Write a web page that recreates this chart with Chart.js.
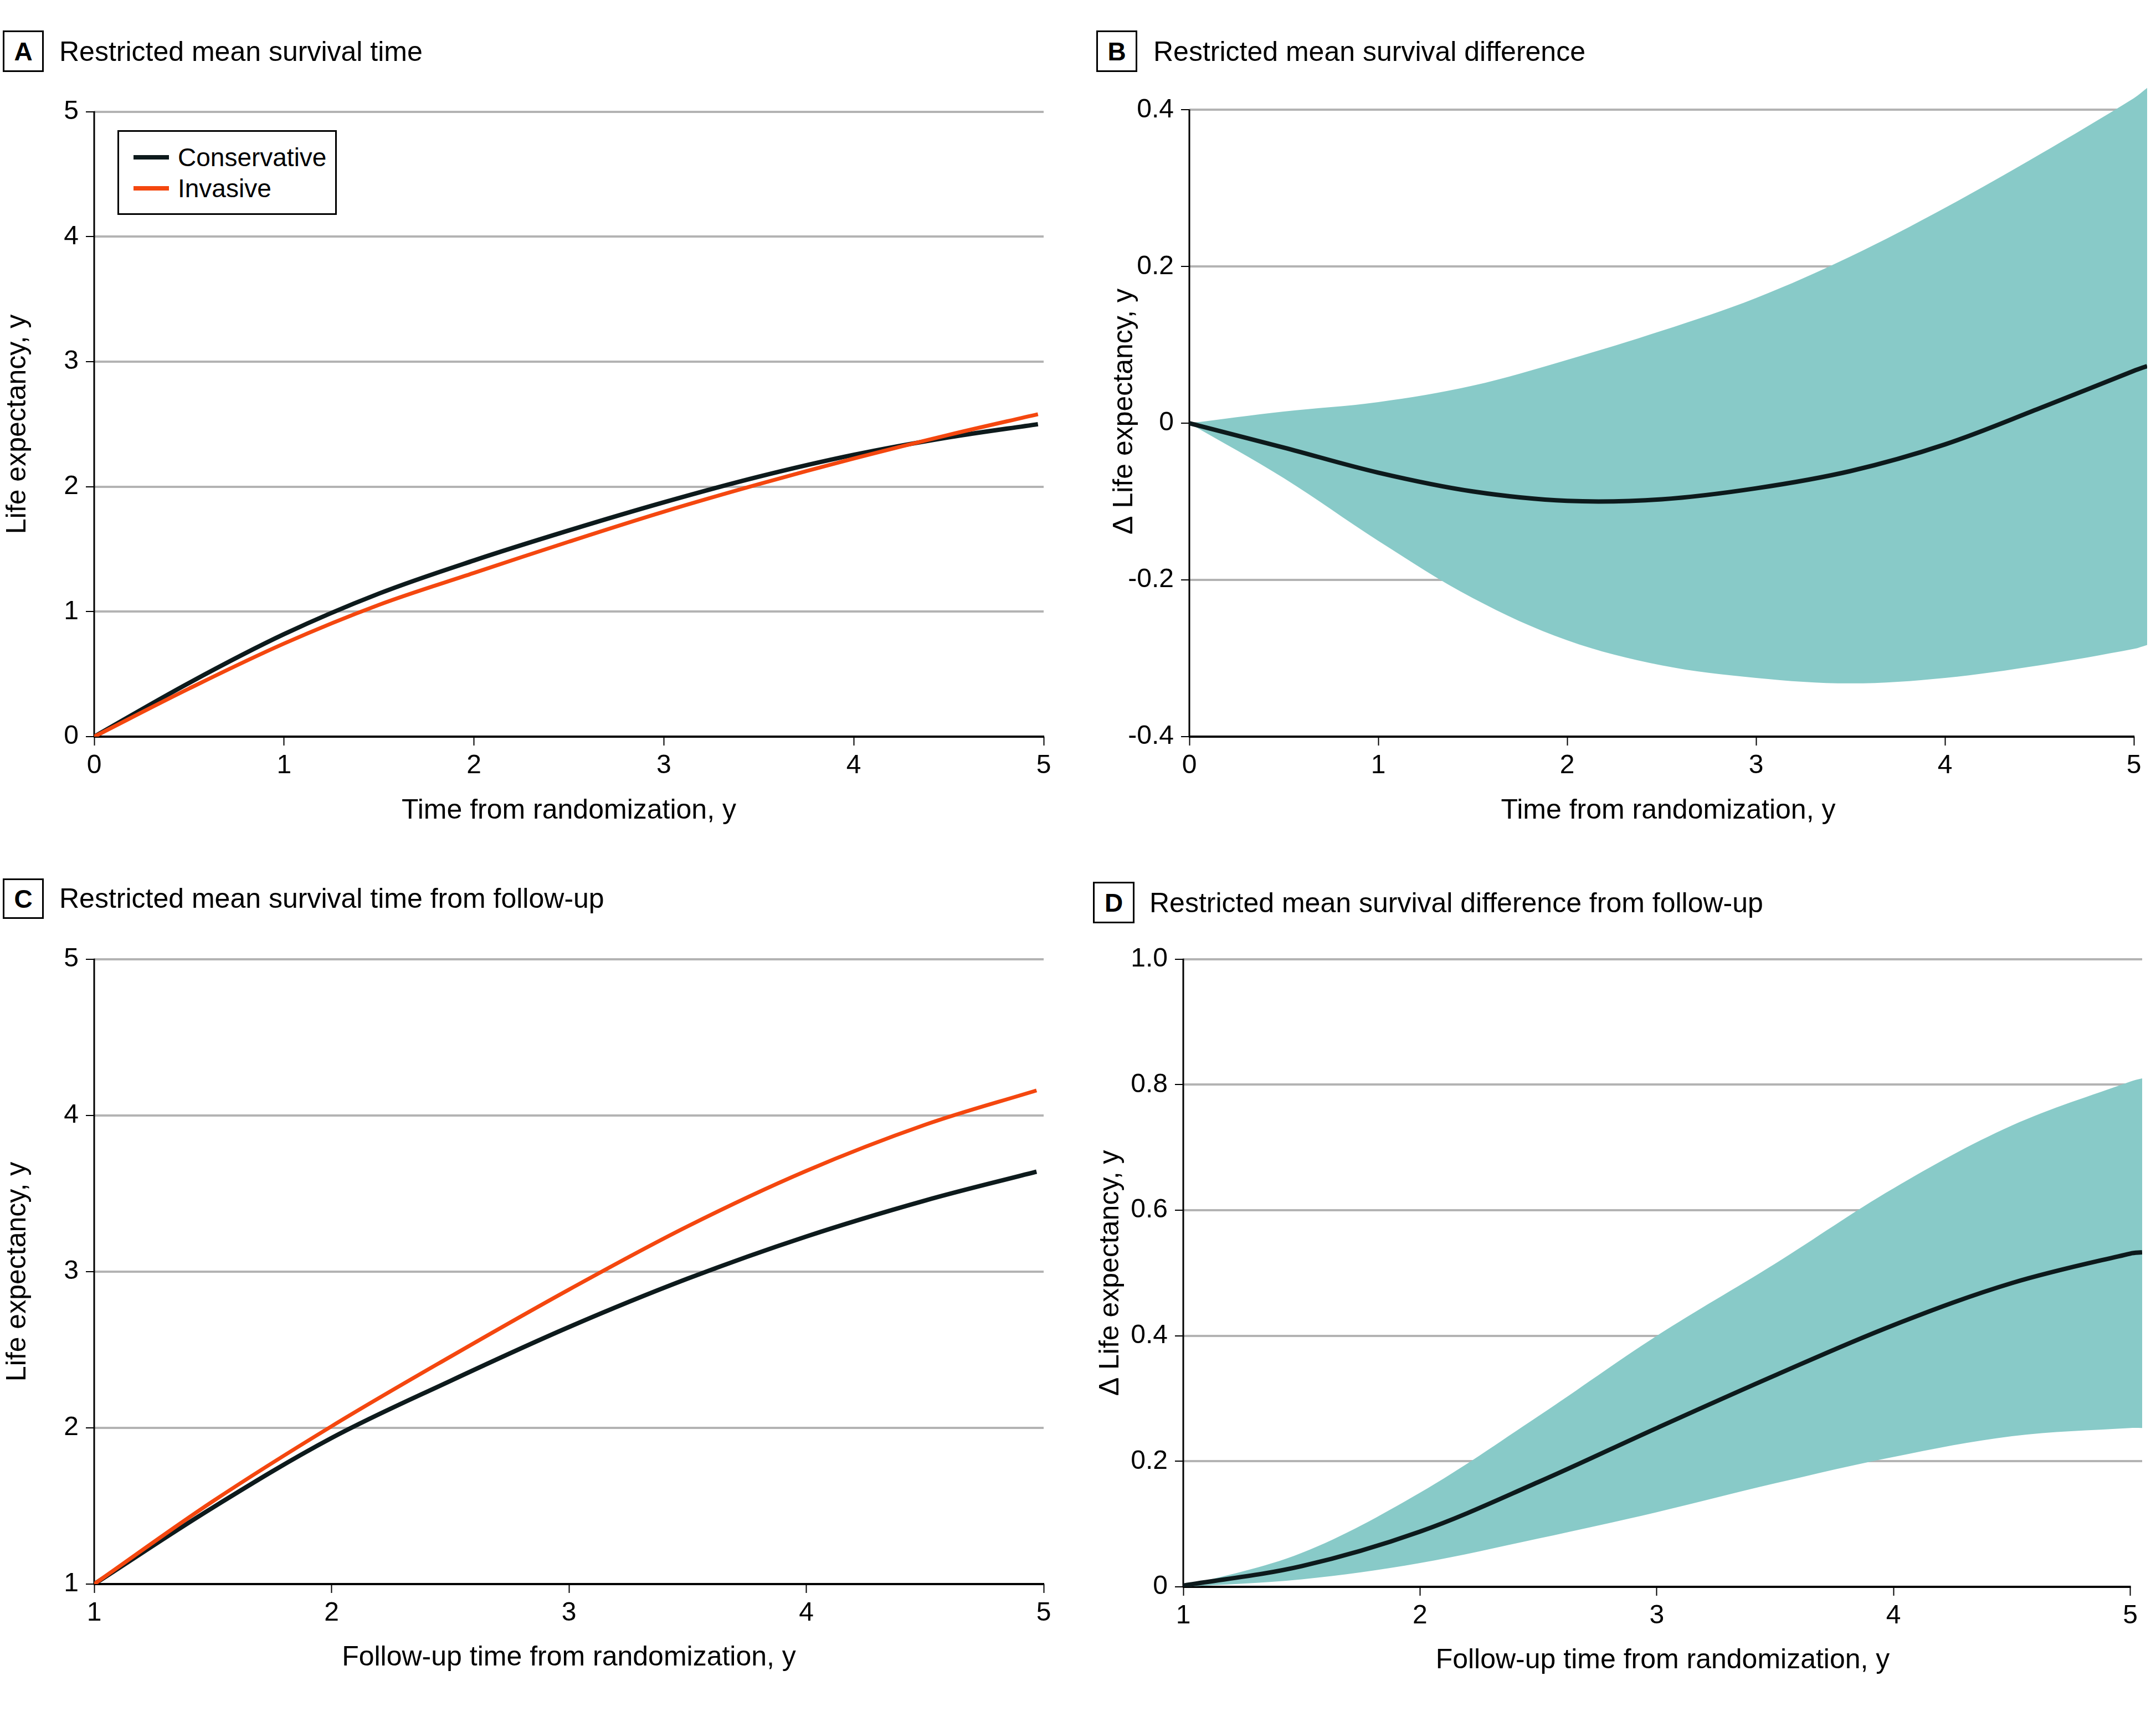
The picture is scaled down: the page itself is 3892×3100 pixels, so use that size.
<!DOCTYPE html>
<html>
<head>
<meta charset="utf-8">
<script src="https://cdn.jsdelivr.net/npm/chart.js@4.4.1/dist/chart.umd.min.js"></script>
<style>
  body { margin: 0; background: #fff; }
  #page { position: relative; width: 3892px; height: 3100px; background: #fff;
          font-family: 'Liberation Sans', Arial, sans-serif; color: #000; overflow: hidden; }
  canvas { position: absolute; }
  .tag { position: absolute; box-sizing: border-box; border: 3px solid #000; font-weight: bold;
         font-size: 46px; display: flex; align-items: center; justify-content: center; }
  .ptitle { position: absolute; font-size: 50px; line-height: 60px; white-space: nowrap; }
  .legend { position: absolute; box-sizing: border-box; border: 3px solid #000; background: #fff; }
  .legend .item { position: absolute; left: 0; height: 56px; width: 100%; }
  .legend .swatch { position: absolute; left: 26px; top: 24px; width: 64px; height: 8px; }
  .legend .label { position: absolute; left: 106px; top: 0; font-size: 46px; line-height: 56px; }
</style>
</head>
<body>
<div id="page">
  <div class="tag" style="left:5px;top:55px;width:74px;height:75px;">A</div>
  <div class="ptitle" style="left:107px;top:63px;">Restricted mean survival time</div>
  <div class="tag" style="left:1979px;top:55px;width:74px;height:75px;">B</div>
  <div class="ptitle" style="left:2082px;top:63px;">Restricted mean survival difference</div>
  <div class="tag" style="left:5px;top:1586px;width:74px;height:73px;">C</div>
  <div class="ptitle" style="left:107px;top:1592px;">Restricted mean survival time from follow-up</div>
  <div class="tag" style="left:1973px;top:1592px;width:75px;height:75px;">D</div>
  <div class="ptitle" style="left:2075px;top:1600px;">Restricted mean survival difference from follow-up</div>

  <canvas id="chartA" width="1930" height="1360" style="left:0px;top:160px;"></canvas>
  <canvas id="chartB" width="1942" height="1410" style="left:1950px;top:110px;"></canvas>
  <canvas id="chartC" width="1930" height="1360" style="left:0px;top:1690px;"></canvas>
  <canvas id="chartD" width="1942" height="1360" style="left:1950px;top:1690px;"></canvas>

  <div class="legend" id="legendA" style="left:212px;top:235px;width:396px;height:153px;"></div>
</div>

<script>
// series names
const seriesNames = ['Conservative', 'Invasive'];

// A: restricted mean survival time
const timeA = [0, 0.5, 1, 1.5, 2, 2.5, 3, 3.5, 4, 4.5, 4.97];
const conservativeA = [0, 0.43, 0.82, 1.145, 1.41, 1.65, 1.875, 2.08, 2.255, 2.395, 2.50];
const invasiveA = [0, 0.385, 0.745, 1.055, 1.31, 1.56, 1.80, 2.02, 2.225, 2.415, 2.58];

// B: restricted mean survival difference (with CI band)
const timeB = [0, 0.5, 1, 1.5, 2, 2.5, 3, 3.5, 4, 4.5, 5, 5.07];
const diffB = [0, -0.031, -0.063, -0.087, -0.099, -0.097, -0.083, -0.061, -0.027, 0.019, 0.067, 0.073];
const upperB = [0, 0.015, 0.027, 0.048, 0.081, 0.118, 0.160, 0.213, 0.275, 0.343, 0.415, 0.428];
const lowerB = [0, -0.07, -0.15, -0.223, -0.277, -0.309, -0.325, -0.332, -0.325, -0.309, -0.288, -0.283];

// C: restricted mean survival time from follow-up
const timeC = [1, 1.5, 2, 2.5, 3, 3.5, 4, 4.5, 4.97];
const conservativeC = [1.0, 1.49, 1.935, 2.30, 2.645, 2.955, 3.225, 3.455, 3.64];
const invasiveC = [1.0, 1.53, 2.01, 2.455, 2.885, 3.29, 3.645, 3.94, 4.16];

// D: restricted mean survival difference from follow-up (with CI band)
const timeD = [1, 1.5, 2, 2.5, 3, 3.5, 4, 4.5, 5, 5.05];
const diffD = [0.002, 0.033, 0.088, 0.167, 0.253, 0.337, 0.417, 0.484, 0.531, 0.533];
const upperD = [0, 0.054, 0.150, 0.272, 0.40, 0.515, 0.635, 0.735, 0.805, 0.81];
const lowerD = [0, 0.012, 0.038, 0.077, 0.119, 0.165, 0.207, 0.240, 0.253, 0.253];

// tick values / labels
const xTicksAB = [0, 1, 2, 3, 4, 5];
const xTicksCD = [1, 2, 3, 4, 5];
const yTicksA = [0, 1, 2, 3, 4, 5];
const yTicksB = [-0.4, -0.2, 0, 0.2, 0.4];
const yLabelsB = ['-0.4', '-0.2', '0', '0.2', '0.4'];
const yTicksC = [1, 2, 3, 4, 5];
const yTicksD = [0, 0.2, 0.4, 0.6, 0.8, 1.0];
const yLabelsD = ['0', '0.2', '0.4', '0.6', '0.8', '1.0'];

const BLACK = '#0d1a1c';
const ORANGE = '#f4470f';
const TEAL = '#88cac8';
const GRID = '#b3b3b3';
const seriesColors = [BLACK, ORANGE];

Chart.defaults.font.family = "'Liberation Sans', Arial, sans-serif";
Chart.defaults.color = '#000';

// axis lines drawn only over the ticked range (bands run a little past the last tick)
const axisLines = {
    id: 'axisLines',
    beforeDatasetsDraw(chart, args, opts) {
        const xs = chart.scales.x, ys = chart.scales.y, ctx = chart.ctx;
        const left = chart.chartArea.left, bottom = chart.chartArea.bottom;
        ctx.save();
        ctx.strokeStyle = '#000';
        ctx.lineWidth = 3;
        ctx.beginPath();
        ctx.moveTo(left, bottom + 1);
        ctx.lineTo(left, ys.getPixelForValue(opts.yTop) - 1);
        ctx.stroke();
        ctx.lineWidth = 4;
        ctx.beginPath();
        ctx.moveTo(left - 1, bottom);
        ctx.lineTo(xs.getPixelForValue(opts.xEnd) + 1, bottom);
        ctx.stroke();
        ctx.restore();
    }
};

function pts(xs, ys) {
    return xs.map((x, i) => ({ x: x, y: ys[i] }));
}

function xScale(min, max, ticks, title, g) {
    return {
        type: 'linear', min: min, max: max,
        afterBuildTicks: s => { s.ticks = ticks.map(v => ({ value: v })); },
        afterFit: s => { s.height = g.xh; },
        grid: { drawOnChartArea: false, drawTicks: true, tickLength: 16, tickWidth: 2, tickColor: '#000' },
        border: { display: false },
        ticks: { font: { size: 48 }, color: '#000', padding: 8, maxRotation: 0, autoSkip: false,
                 callback: v => String(v) },
        title: { display: true, text: title, font: { size: 50 }, color: '#000',
                 padding: { top: 0, bottom: g.xpb } }
    };
}

function yScale(min, max, ticks, labels, title, g) {
    return {
        type: 'linear', min: min, max: max,
        afterBuildTicks: s => { s.ticks = ticks.map(v => ({ value: v })); },
        afterFit: s => { s.width = g.yw; },
        grid: {
            color: c => (c.tick && c.tick.value === min) ? 'rgba(0,0,0,0)' : GRID,
            lineWidth: 4, tickLength: 15, tickWidth: 2, tickColor: '#000'
        },
        border: { display: false },
        ticks: { font: { size: 48 }, color: '#000', padding: 13,
                 callback: v => labels[ticks.indexOf(v)] },
        title: { display: true, text: title, font: { size: 50 }, color: '#000',
                 padding: { top: g.ytp, bottom: 0 } }
    };
}

function makeChart(id, datasets, xs, ys, g, xEnd, yTop) {
    return new Chart(document.getElementById(id), {
        type: 'line',
        data: { datasets: datasets },
        plugins: [axisLines],
        options: {
            responsive: false, animation: false, devicePixelRatio: 1,
            layout: { autoPadding: false, padding: { left: 0, top: g.pt, right: g.pr, bottom: 0 } },
            elements: { point: { radius: 0 }, line: { tension: 0.35 } },
            plugins: {
                legend: { display: false },
                tooltip: { enabled: false },
                axisLines: { xEnd: xEnd, yTop: yTop }
            },
            scales: { x: xs, y: ys }
        }
    });
}

function twoLines(time, cons, inv) {
    // invasive first so it is drawn on top
    return [
        { label: seriesNames[1], data: pts(time, inv), borderColor: ORANGE, borderWidth: 7, fill: false },
        { label: seriesNames[0], data: pts(time, cons), borderColor: BLACK, borderWidth: 8, fill: false }
    ];
}

function band(time, mean, upper, lower) {
    return [
        { label: 'Difference', data: pts(time, mean), borderColor: BLACK, borderWidth: 8, fill: false },
        { label: 'Upper', data: pts(time, upper), borderWidth: 0, borderColor: 'rgba(0,0,0,0)',
          backgroundColor: TEAL, fill: '+1' },
        { label: 'Lower', data: pts(time, lower), borderWidth: 0, borderColor: 'rgba(0,0,0,0)',
          backgroundColor: TEAL, fill: false }
    ];
}

const gA = { pt: 38, pr: 46, yw: 170, xh: 190, xpb: 26, ytp: 2 };
const gB = { pt: 46, pr: 16, yw: 197, xh: 190, xpb: 26, ytp: 50 };
const gC = { pt: 35, pr: 46, yw: 170, xh: 190, xpb: 27, ytp: 2 };
const gD = { pt: 39, pr: 25, yw: 186, xh: 185, xpb: 22, ytp: 25 };

makeChart('chartA', twoLines(timeA, conservativeA, invasiveA),
    xScale(0, 5, xTicksAB, 'Time from randomization, y', gA),
    yScale(0, 5, yTicksA, yTicksA.map(String), 'Life expectancy, y', gA), gA, 5, 5);

makeChart('chartB', band(timeB, diffB, upperB, lowerB),
    xScale(0, 5.07, xTicksAB, 'Time from randomization, y', gB),
    yScale(-0.4, 0.43, yTicksB, yLabelsB, '\u0394 Life expectancy, y', gB), gB, 5, 0.4);

makeChart('chartC', twoLines(timeC, conservativeC, invasiveC),
    xScale(1, 5, xTicksCD, 'Follow-up time from randomization, y', gC),
    yScale(1, 5, yTicksC, yTicksC.map(String), 'Life expectancy, y', gC), gC, 5, 5);

makeChart('chartD', band(timeD, diffD, upperD, lowerD),
    xScale(1, 5.05, xTicksCD, 'Follow-up time from randomization, y', gD),
    yScale(0, 1, yTicksD, yLabelsD, '\u0394 Life expectancy, y', gD), gD, 5, 1);

// legend for panel A
const legendA = document.getElementById('legendA');
seriesNames.forEach((name, i) => {
    const item = document.createElement('div');
    item.className = 'item';
    item.style.top = (18 + i * 56) + 'px';
    item.innerHTML = '<div class="swatch" style="background:' + seriesColors[i] + '"></div>' +
                     '<div class="label">' + name + '</div>';
    legendA.appendChild(item);
});
</script>
</body>
</html>
